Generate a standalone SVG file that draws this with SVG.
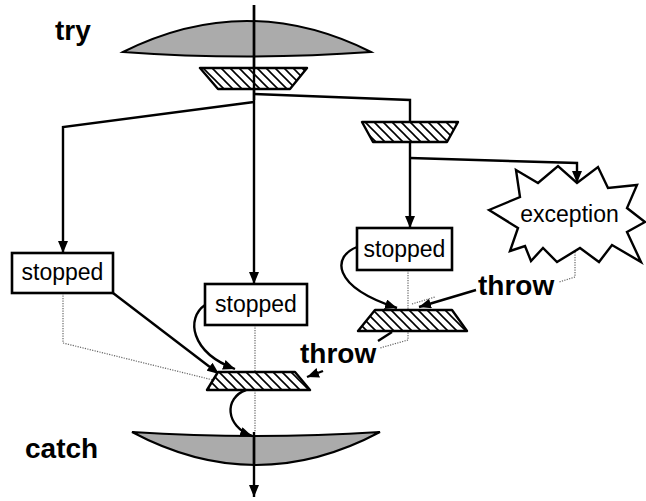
<svg xmlns="http://www.w3.org/2000/svg" width="646" height="501" viewBox="0 0 646 501">
<style>
.lbl{font-family:"Liberation Sans",Arial,sans-serif;font-weight:bold;font-size:28px;fill:#000}
.txt{font-family:"Liberation Sans",Arial,sans-serif;font-size:23px;fill:#000}
.box{fill:#fff;stroke:#000;stroke-width:2.6}
.trap{fill:url(#hatch);stroke:#000;stroke-width:2.4;stroke-linejoin:round}
.lens{fill:#ababab;stroke:#000;stroke-width:2}
.flow{fill:none;stroke:#000;stroke-width:2.4}
.dot{fill:none;stroke:#666;stroke-width:1.2;stroke-dasharray:1.2 1.3}
</style>
<defs>
<pattern id="hatch" patternUnits="userSpaceOnUse" width="9" height="9">
<rect width="9" height="9" fill="#fff"/>
<path d="M-2,-2 L11,11 M-2,7 L2,11 M7,-2 L11,2" stroke="#000" stroke-width="1.6"/>
</pattern>
<marker id="arr" markerUnits="userSpaceOnUse" markerWidth="12" markerHeight="10" refX="12" refY="5" orient="auto">
<path d="M0,0 L12,5 L0,10 Z" fill="#000"/>
</marker>
</defs>

<g id="try-lens">
<path class="lens" d="M123,52 Q247,-10 371,52 Q247,61 123,52 Z"/>
<text class="lbl" x="55" y="40">try</text>
</g>
<g id="catch-lens">
<path class="lens" d="M132,432 Q256,440 380,432 Q256,498 132,432 Z"/>
<text class="lbl" x="25" y="458">catch</text>
</g>

<g id="connectors">
<path class="flow" d="M254,5 L254,284" marker-end="url(#arr)"/>
<path class="flow" d="M254,102 L63,127 L63,253" marker-end="url(#arr)"/>
<path class="flow" d="M254,94 L410,100 L410,122"/>
<path class="flow" d="M410,142 L410,228" marker-end="url(#arr)"/>
<path class="flow" d="M410,158 L577,163 L577,183" marker-end="url(#arr)"/>
<path class="flow" d="M357,247 C333,256 330,286 397,308" marker-end="url(#arr)"/>
<path class="flow" d="M476,290 L419,307" marker-end="url(#arr)"/>
<path class="flow" d="M392,332 L378,341"/>
<path class="flow" d="M113,293 L219,374" marker-end="url(#arr)"/>
<path class="flow" d="M205,305 C186,318 190,352 235,369" marker-end="url(#arr)"/>
<path class="flow" d="M323,371 L307,377" marker-end="url(#arr)"/>
<path class="flow" d="M246,390 C224,398 225,426 252,436" marker-end="url(#arr)"/>
<path class="flow" d="M254,432 L254,497" marker-end="url(#arr)"/>
<path class="dot" d="M255,325 L255,432"/>
<path class="dot" d="M63,293 L63,343 L213,380"/>
<path class="dot" d="M408,270 L408,340 L380,348"/>
<path class="dot" d="M412,304 L435,297"/>
<path class="dot" d="M575,252 L575,277 L559,282"/>
</g>

<g id="trap-top"><path class="trap" d="M200,68 L307,68 L290,89 L218,89 Z"/></g>
<g id="trap-right"><path class="trap" d="M362,122 L458,122 L447,142 L373,142 Z"/></g>
<g id="trap-join-right"><path class="trap" d="M375,310 L452,310 L467,331 L358,331 Z"/></g>
<g id="trap-join"><path class="trap" d="M218,372 L295,372 L310,390 L207,390 Z"/></g>

<g id="main-line-over">
<path class="flow" d="M254,5 L254,100"/>
<path class="flow" d="M254,436 L254,466"/>
</g>

<g id="stopped-left">
<rect class="box" x="12" y="253" width="101" height="40"/>
<text class="txt" x="62.5" y="280" text-anchor="middle">stopped</text>
</g>
<g id="stopped-mid">
<rect class="box" x="205" y="284" width="102" height="41"/>
<text class="txt" x="256" y="312" text-anchor="middle">stopped</text>
</g>
<g id="stopped-right">
<rect class="box" x="357" y="228" width="95" height="42"/>
<text class="txt" x="404.5" y="257" text-anchor="middle">stopped</text>
</g>
<g id="exception">
<path fill="#fff" stroke="#000" stroke-width="2.4" stroke-linejoin="miter" d="M489,210 L520,197 L516,170 L538,183 L558,166 L577,183 L598,167 L608,188 L637,185 L627,208 L645,222 L627,232 L641,262 L612,245 L599,262 L580,248 L557,262 L543,248 L531,261 L525,246 L510,251 L518,228 Z"/>
<text class="txt" x="569.5" y="222" text-anchor="middle">exception</text>
</g>
<g id="throw-right"><text class="lbl" x="478" y="295">throw</text></g>
<g id="throw-left"><text class="lbl" x="300" y="363">throw</text></g>
</svg>
